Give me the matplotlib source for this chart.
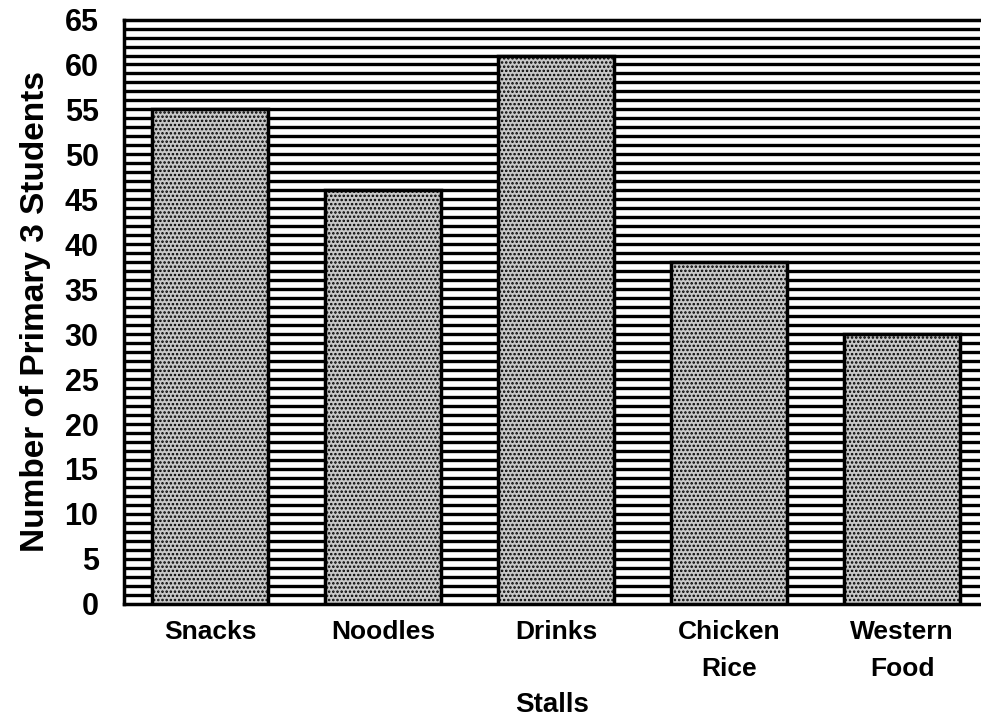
import matplotlib
matplotlib.use('Agg')
import matplotlib.pyplot as plt
import numpy as np

# data
stalls = ['Snacks', 'Noodles', 'Drinks', 'Chicken\nRice', 'Western\nFood']
students = [55, 46, 61, 38, 30]
y_ticks = list(range(0, 66, 5))

plt.rcParams['font.family'] = ['Liberation Sans', 'DejaVu Sans']
plt.rcParams['font.weight'] = 'bold'
plt.rcParams['hatch.color'] = 'black'
plt.rcParams['hatch.linewidth'] = 1.2

fig = plt.figure(figsize=(9.81, 7.24), dpi=100)
ax = fig.add_axes([0.126, 0.166, 0.873, 0.807])

# dense horizontal rules behind the bars, one per student
for y in range(1, 65):
    ax.axhline(y, color='black', linewidth=2.4, zorder=1)

x = np.arange(len(stalls))
ax.bar(x, students, width=0.67, color='#c8c8c8', edgecolor='black',
       linewidth=2.5, hatch='....', zorder=3)

ax.set_xlim(-0.5, 4.45)
ax.set_ylim(0, 65)
ax.set_yticks(y_ticks)
ax.set_xticks(x)
ax.set_xticklabels(stalls, fontsize=19, fontweight='bold', linespacing=1.65)
ax.tick_params(axis='y', labelsize=22, length=0, pad=18)
ax.tick_params(axis='x', length=0, pad=12)
for lab in ax.get_yticklabels():
    lab.set_fontweight('bold')

for side in ['left', 'bottom', 'top']:
    ax.spines[side].set_linewidth(2.5)
ax.spines['right'].set_visible(False)

ax.set_ylabel('Number of Primary 3 Students', fontsize=24, fontweight='bold', labelpad=10)
ax.set_xlabel('Stalls', fontsize=20, fontweight='bold', labelpad=8)

plt.savefig('out.png', dpi=100)
plt.close()
